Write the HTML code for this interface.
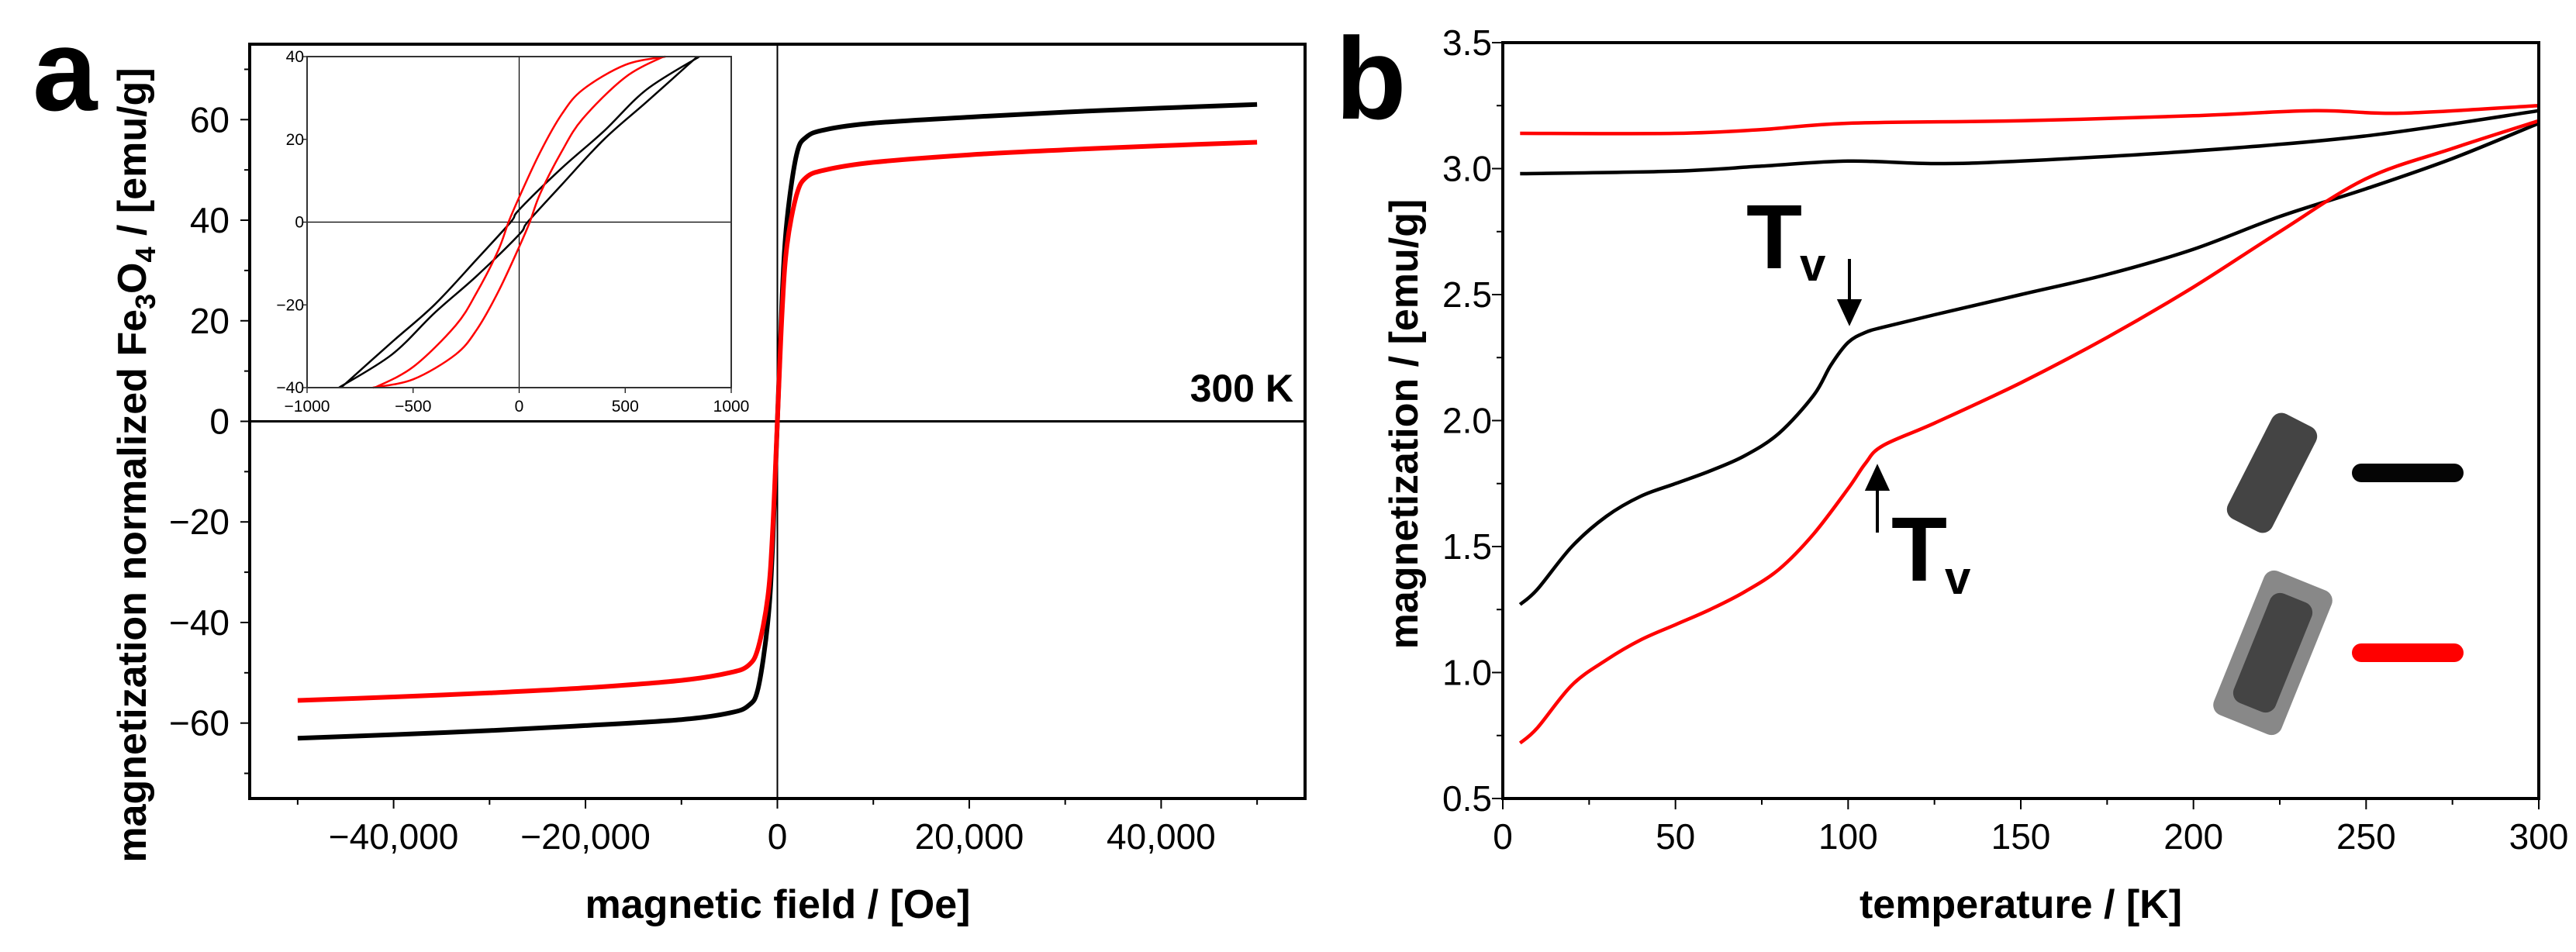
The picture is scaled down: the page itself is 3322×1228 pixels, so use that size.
<!DOCTYPE html>
<html><head><meta charset="utf-8"><style>
html,body{margin:0;padding:0;background:#fff;}
svg{display:block;font-family:"Liberation Sans",Arial,sans-serif;}
</style></head><body>
<svg id="fig" width="3322" height="1228" viewBox="0 0 3322 1228" xmlns="http://www.w3.org/2000/svg">
<rect width="3322" height="1228" fill="#fff"/>
<g id="pa"></g>
<g id="pb"></g>
</svg>
<script>
// ---- Panel a data (main hysteresis) ----
const aField = [-50000,-40000,-30000,-20000,-10000,-5000,-3000,-2000,-1000,-500,0,500,1000,2000,3000,5000,10000,20000,30000,40000,50000];
const aBlack = [-63,-62.3,-61.5,-60.5,-59.3,-58,-56.5,-53,-40,-25,0,25,40,53,56.5,58,59.3,60.5,61.5,62.3,63];
const aRed = [-55.5,-54.8,-54,-53,-51.5,-50,-48.5,-45,-35,-22,0,22,35,45,48.5,50,51.5,53,54,54.8,55.5];
const aXTicks = [-40000,-20000,0,20000,40000];
const aXLabels = ["\u221240,000","\u221220,000","0","20,000","40,000"];
const aYTicks = [-60,-40,-20,0,20,40,60];
const aYLabels = ["\u221260","\u221240","\u221220","0","20","40","60"];
// ---- Inset data (upper branch; lower branch mirrored) ----
const inBlackH = [-840,-600,-400,-200,-40,0,200,400,600,850];
const inBlackM = [-40,-29,-20,-9,0,3,13,22,32,40];
const inRedH = [-680,-500,-300,-200,-100,-50,0,100,200,300,500,690];
const inRedM = [-40,-35,-25,-17,-7,0,6,17,26,32,38,40];
const inXTicks = [-1000,-500,0,500,1000];
const inXLabels = ["\u22121000","\u2212500","0","500","1000"];
const inYTicks = [-40,-20,0,20,40];
const inYLabels = ["\u221240","\u221220","0","20","40"];
// ---- Panel b data ----
const bT_zfcBlack = [5,10,20,30,40,50,60,70,80,90,95,100,105,110,125,150,175,200,225,250,275,300];
const bM_zfcBlack = [1.27,1.33,1.5,1.62,1.70,1.75,1.80,1.86,1.95,2.10,2.22,2.31,2.35,2.37,2.42,2.50,2.58,2.68,2.81,2.92,3.04,3.18];
const bT_zfcRed = [5,10,20,30,40,50,60,70,80,90,100,105,110,125,150,175,200,225,250,275,300];
const bM_zfcRed = [0.72,0.78,0.95,1.05,1.13,1.19,1.25,1.32,1.41,1.55,1.73,1.83,1.90,1.99,2.15,2.33,2.53,2.75,2.96,3.08,3.19];
const bT_fcBlack = [5,50,75,100,125,150,200,250,300];
const bM_fcBlack = [2.98,2.99,3.01,3.03,3.02,3.03,3.07,3.13,3.23];
const bT_fcRed = [5,50,75,100,150,200,235,260,300];
const bM_fcRed = [3.14,3.14,3.155,3.18,3.19,3.21,3.23,3.22,3.25];
const bXTicks = [0,50,100,150,200,250,300];
const bYTicks = [0.5,1.0,1.5,2.0,2.5,3.0,3.5];
const bYLabels = ["0.5","1.0","1.5","2.0","2.5","3.0","3.5"];

const NS="http://www.w3.org/2000/svg";
function mk(parent,tag,attrs,text){const e=document.createElementNS(NS,tag);for(const k in attrs)e.setAttribute(k,attrs[k]);if(text!==undefined)e.textContent=text;parent.appendChild(e);return e;}
function lin(d0,d1,r0,r1){return v=>r0+(v-d0)/(d1-d0)*(r1-r0);}
function smoothPath(pts){
  let d="M"+pts[0][0].toFixed(1)+","+pts[0][1].toFixed(1);
  for(let i=0;i<pts.length-1;i++){
    const p0=pts[i-1]||pts[i],p1=pts[i],p2=pts[i+1],p3=pts[i+2]||p2;
    const c1=[p1[0]+(p2[0]-p0[0])/6,p1[1]+(p2[1]-p0[1])/6];
    const c2=[p2[0]-(p3[0]-p1[0])/6,p2[1]-(p3[1]-p1[1])/6];
    d+="C"+c1[0].toFixed(1)+","+c1[1].toFixed(1)+" "+c2[0].toFixed(1)+","+c2[1].toFixed(1)+" "+p2[0].toFixed(1)+","+p2[1].toFixed(1);
  }
  return d;
}

// ===== Panel a =====
const pa=document.getElementById('pa');
const aL=322,aR=1683,aT=57,aB=1030;
const ax=lin(-55000,55000,aL,aR), ay=lin(-75,75,aB,aT);
let e;
e=mk(pa,'text',{x:42,y:142,'font-size':150,'font-weight':'bold'},'a');


e=mk(pa,'line',{x1:aL,y1:ay(0),x2:aR,y2:ay(0),stroke:'#000','stroke-width':3});


e=mk(pa,'line',{x1:ax(0),y1:aT,x2:ax(0),y2:aB,stroke:'#000','stroke-width':2});


aXTicks.forEach((t,i)=>{
  const x=ax(t);
  e=mk(pa,'line',{x1:x,y1:aB,x2:x,y2:aB+13,stroke:'#000','stroke-width':2});
  
  
  e=mk(pa,'text',{x:x,y:1095,'font-size':46,'text-anchor':'middle'},aXLabels[i]);
  
  
});
for(let t=-50000;t<=50000;t+=10000){if(t%20000===0)continue;
  e=mk(pa,'line',{x1:ax(t),y1:aB,x2:ax(t),y2:aB+8,stroke:'#000','stroke-width':2});
  
  }
aYTicks.forEach((t,i)=>{
  const y=ay(t);
  e=mk(pa,'line',{x1:aL-12,y1:y,x2:aL,y2:y,stroke:'#000','stroke-width':2});
  
  
  e=mk(pa,'text',{x:296,y:y+16,'font-size':46,'text-anchor':'end'},aYLabels[i]);
  
  
});
for(let t=-70;t<=70;t+=10){if(t%20===0)continue;
  e=mk(pa,'line',{x1:aL-7,y1:ay(t),x2:aL,y2:ay(t),stroke:'#000','stroke-width':2});
  
  }
e=mk(pa,'text',{x:1003,y:1184,'font-size':52,'font-weight':'bold','text-anchor':'middle'},'magnetic field / [Oe]');


e=mk(pa,'text',{transform:'translate(188,600) rotate(-90)','font-size':52,'font-weight':'bold','text-anchor':'middle'});


e.innerHTML='magnetization normalized Fe<tspan font-size="36" dy="12">3</tspan><tspan dy="-12">O</tspan><tspan font-size="36" dy="12">4</tspan><tspan dy="-12"> / [emu/g]</tspan>';
e=mk(pa,'text',{x:1668,y:518,'font-size':50,'font-weight':'bold','text-anchor':'end'},'300 K');


e=mk(pa,'path',{d:smoothPath(aField.map((h,i)=>[ax(h),ay(aBlack[i])])),fill:'none',stroke:'#000','stroke-width':6});


e=mk(pa,'path',{d:smoothPath(aField.map((h,i)=>[ax(h),ay(aRed[i])])),fill:'none',stroke:'#f00','stroke-width':6});


e=mk(pa,'rect',{x:aL,y:aT,width:aR-aL,height:aB-aT,fill:'none',stroke:'#000','stroke-width':4});



// inset
const iL=396,iR=943,iT=73,iB=500;
const ix=lin(-1000,1000,iL,iR), iy=lin(-40,40,iB,iT);
const inset=mk(pa,'g',{});


mk(inset,'rect',{x:iL,y:iT,width:iR-iL,height:iB-iT,fill:'#fff',stroke:'none'});
e=mk(inset,'line',{x1:iL,y1:iy(0),x2:iR,y2:iy(0),stroke:'#000','stroke-width':1.2});


e=mk(inset,'line',{x1:ix(0),y1:iT,x2:ix(0),y2:iB,stroke:'#000','stroke-width':1.2});


inXTicks.forEach((t,i)=>{
  e=mk(inset,'line',{x1:ix(t),y1:iB,x2:ix(t),y2:iB+7,stroke:'#000','stroke-width':1.2});
  
  
  e=mk(inset,'text',{x:ix(t),y:iB+31,'font-size':21,'text-anchor':'middle'},inXLabels[i]);
  
  
});
inYTicks.forEach((t,i)=>{
  e=mk(inset,'line',{x1:iL-6,y1:iy(t),x2:iL,y2:iy(t),stroke:'#000','stroke-width':1.2});
  
  
  e=mk(inset,'text',{x:iL-4,y:iy(t)+7,'font-size':21,'text-anchor':'end'},inYLabels[i]);
  
  
});
function loop(H,M,col,name){
  const up=H.map((h,i)=>[ix(h),iy(M[i])]);
  const lo=H.map((h,i)=>[ix(-h),iy(-M[i])]);
  e=mk(inset,'path',{d:smoothPath(up),fill:'none',stroke:col,'stroke-width':2.5});
  
  
  e=mk(inset,'path',{d:smoothPath(lo),fill:'none',stroke:col,'stroke-width':2.5});
  
  
}
loop(inBlackH,inBlackM,'#000','inset-black');
loop(inRedH,inRedM,'#f00','inset-red');
e=mk(inset,'rect',{x:iL,y:iT,width:iR-iL,height:iB-iT,fill:'none',stroke:'#333','stroke-width':2});



// ===== Panel b =====
const pb=document.getElementById('pb');
const bL=1938,bR=3274,bT=55,bB=1030;
const bx=lin(0,300,bL,bR), by=lin(0.5,3.5,bB,bT);
e=mk(pb,'text',{x:1722,y:153,'font-size':150,'font-weight':'bold'},'b');


bXTicks.forEach(t=>{
  e=mk(pb,'line',{x1:bx(t),y1:bB,x2:bx(t),y2:bB+14,stroke:'#000','stroke-width':2});
  
  
  e=mk(pb,'text',{x:bx(t),y:1095,'font-size':46,'text-anchor':'middle'},String(t));
  
  
});
for(let t=25;t<300;t+=50){
  e=mk(pb,'line',{x1:bx(t),y1:bB,x2:bx(t),y2:bB+8,stroke:'#000','stroke-width':2});
  
  }
bYTicks.forEach((t,i)=>{
  e=mk(pb,'line',{x1:bL-14,y1:by(t),x2:bL,y2:by(t),stroke:'#000','stroke-width':2});
  
  
  e=mk(pb,'text',{x:bL-14,y:by(t)+16,'font-size':46,'text-anchor':'end'},bYLabels[i]);
  
  
});
for(let t=0.75;t<3.5;t+=0.5){
  e=mk(pb,'line',{x1:bL-8,y1:by(t),x2:bL,y2:by(t),stroke:'#000','stroke-width':2});
  
  }
e=mk(pb,'text',{x:2606,y:1184,'font-size':52,'font-weight':'bold','text-anchor':'middle'},'temperature / [K]');


e=mk(pb,'text',{transform:'translate(1828,547) rotate(-90)','font-size':52,'font-weight':'bold','text-anchor':'middle'},'magnetization / [emu/g]');


function bCurve(T,M,col,name){
  e=mk(pb,'path',{d:smoothPath(T.map((t,i)=>[bx(t),by(M[i])])),fill:'none',stroke:col,'stroke-width':4.5});
  
  
}
bCurve(bT_fcBlack,bM_fcBlack,'#000','series-black-fc');
bCurve(bT_fcRed,bM_fcRed,'#f00','series-red-fc');
bCurve(bT_zfcBlack,bM_zfcBlack,'#000','series-black-zfc');
bCurve(bT_zfcRed,bM_zfcRed,'#f00','series-red-zfc');
e=mk(pb,'rect',{x:bL,y:bT,width:bR-bL,height:bB-bT,fill:'none',stroke:'#000','stroke-width':4});


e=mk(pb,'text',{x:2252,y:346,'font-size':118,'font-weight':'bold'},'T');


e=mk(pb,'text',{x:2321,y:362,'font-size':60,'font-weight':'bold'},'v');


e=mk(pb,'path',{d:'M2385,334 L2385,392 M2372,388 L2398,388 L2385,416 Z',stroke:'#000','stroke-width':4,fill:'#000'});


e=mk(pb,'text',{x:2439,y:749,'font-size':118,'font-weight':'bold'},'T');


e=mk(pb,'text',{x:2508,y:766,'font-size':60,'font-weight':'bold'},'v');


e=mk(pb,'path',{d:'M2421,687 L2421,628 M2408,631 L2434,631 L2421,603 Z',stroke:'#000','stroke-width':4,fill:'#000'});


e=mk(pb,'rect',{x:-32,y:-76,width:64,height:152,rx:14,fill:'#444',transform:'translate(2930,610) rotate(27)'});


e=mk(pb,'line',{x1:3045,y1:610,x2:3165,y2:610,stroke:'#050505','stroke-width':24,'stroke-linecap':'round'});


e=mk(pb,'rect',{x:-47,y:-100,width:94,height:200,rx:14,fill:'#888',transform:'translate(2931,842) rotate(22)'});


e=mk(pb,'rect',{x:-29,y:-76,width:58,height:152,rx:14,fill:'#444',transform:'translate(2931,842) rotate(22)'});


e=mk(pb,'line',{x1:3045,y1:842,x2:3165,y2:842,stroke:'#f00','stroke-width':24,'stroke-linecap':'round'});


</script>
</body></html>
